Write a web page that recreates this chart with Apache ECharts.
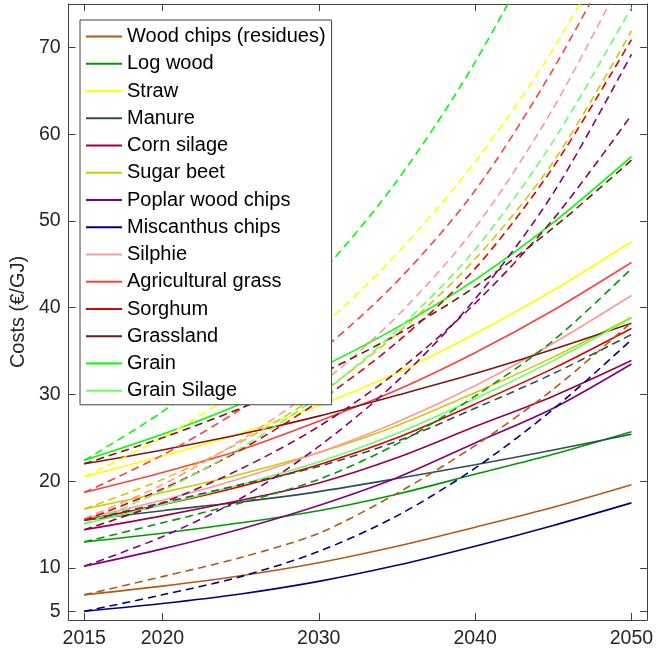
<!DOCTYPE html>
<html>
<head>
<meta charset="utf-8">
<script src="https://cdn.jsdelivr.net/npm/echarts@6/dist/echarts.min.js"></script>
<style>html,body{margin:0;padding:0;background:#fff;}#c{width:656px;height:657px;}</style>
</head>
<body>
<div id="c"></div>
<script>
const years = [2015, 2020, 2025, 2030, 2035, 2040, 2045, 2050];
const xTicks = [2015, 2020, 2030, 2040, 2050];
const yTicks = [5, 10, 20, 30, 40, 50, 60, 70];
const names = ['Wood chips (residues)','Log wood','Straw','Manure','Corn silage','Sugar beet','Poplar wood chips','Miscanthus chips','Silphie','Agricultural grass','Sorghum','Grassland','Grain','Grain Silage'];
const colors = ['#b35a14','#009a00','#ffff00','#2f4f4f','#99004a','#cccc00','#800080','#000080','#ff9999','#ff4040','#dd0000','#7f1515','#00ff00','#66ff66'];

// solid lines
const woodChipsSolid   = [6.9, 7.9, 9.1, 10.6, 12.5, 14.7, 17.0, 19.6];
const logWoodSolid     = [13.0, 14.0, 15.2, 16.6, 18.5, 20.8, 23.1, 25.7];
const strawSolid       = [20.5, 22.9, 25.5, 28.7, 32.5, 37.0, 42.0, 47.6];
const manureSolid      = [15.5, 16.6, 17.6, 18.8, 20.3, 21.9, 23.6, 25.4];
const cornSilageSolid  = [14.4, 16.0, 17.8, 19.8, 22.7, 26.3, 29.8, 33.9];
const sugarBeetSolid   = [16.8, 18.7, 20.8, 23.3, 26.4, 30.2, 34.3, 38.9];
const poplarSolid      = [10.2, 12.2, 14.5, 17.2, 20.4, 24.4, 28.4, 33.5];
const miscanthusSolid  = [5.0, 5.9, 7.0, 8.45, 10.3, 12.5, 14.9, 17.5];
const silphieSolid     = [15.7, 17.8, 20.3, 23.3, 26.8, 31.0, 35.9, 41.4];
const agGrassSolid     = [18.7, 21.0, 23.6, 26.9, 30.5, 34.8, 39.7, 45.2];
const sorghumSolid     = [15.5, 17.3, 19.4, 21.9, 25.0, 28.9, 33.0, 37.6];
const grasslandSolid   = [22.0, 23.6, 25.4, 27.5, 29.9, 32.4, 35.2, 38.2];
const grainSolid       = [22.4, 25.4, 28.9, 33.0, 37.7, 43.2, 49.8, 57.4];
const grainSilageSolid = [15.1, 17.3, 19.6, 22.2, 25.5, 29.5, 33.9, 38.8];

// dashed lines
const woodChipsDashed   = [6.9, 9.0, 11.2, 14.0, 18.6, 24.1, 30.6, 38.3];
const logWoodDashed     = [13.0, 15.2, 17.5, 20.2, 24.3, 29.8, 36.2, 44.5];
const strawDashed       = [20.5, 25.0, 30.6, 37.5, 46.2, 56.8, 69.8, 85.8];
const manureDashed      = [15.5, 17.5, 19.6, 21.7, 24.6, 28.4, 32.4, 36.9];
const cornSilageDashed  = [14.4, 17.5, 21.4, 26.3, 32.6, 40.5, 50.2, 62.2];
const sugarBeetDashed   = [16.8, 20.2, 24.5, 30.0, 37.0, 45.6, 56.8, 71.9];
const poplarDashed      = [10.2, 13.6, 18.0, 24.0, 31.5, 41.0, 53.2, 69.2];
const miscanthusDashed  = [5.0, 6.9, 9.0, 11.9, 16.0, 21.5, 28.3, 36.3];
const silphieDashed     = [15.7, 19.6, 24.7, 31.0, 39.0, 49.2, 63.0, 80.0];
const agGrassDashed     = [18.7, 23.0, 28.3, 34.8, 43.0, 53.5, 67.5, 84.0];
const sorghumDashed     = [15.5, 19.1, 23.6, 29.2, 36.0, 44.5, 56.2, 70.9];
const grasslandDashed   = [22.0, 25.0, 28.4, 32.3, 36.9, 42.4, 49.2, 57.0];
const grainDashed       = [22.4, 28.0, 35.0, 43.7, 54.6, 68.3, 85.3, 106.6];
const grainSilageDashed = [15.1, 18.9, 23.8, 29.8, 37.4, 46.7, 59.2, 74.6];

const solids = [woodChipsSolid, logWoodSolid, strawSolid, manureSolid, cornSilageSolid, sugarBeetSolid, poplarSolid, miscanthusSolid, silphieSolid, agGrassSolid, sorghumSolid, grasslandSolid, grainSolid, grainSilageSolid];
const dasheds = [woodChipsDashed, logWoodDashed, strawDashed, manureDashed, cornSilageDashed, sugarBeetDashed, poplarDashed, miscanthusDashed, silphieDashed, agGrassDashed, sorghumDashed, grasslandDashed, grainDashed, grainSilageDashed];

const FONT = 'Liberation Sans, Arial, sans-serif';
const AX = '#404040';
const TXT = '#262626';

function mk(name, vals, color, dashed) {
  return {
    name: name, type: 'line', xAxisIndex: 0, yAxisIndex: 0,
    data: vals.map((v, i) => [years[i], v]),
    showSymbol: false, smooth: 0.3, clip: true,
    lineStyle: { color: color, width: 1.6, type: dashed ? [8, 5] : 'solid' },
    itemStyle: { color: color },
    emphasis: { disabled: true }, silent: true
  };
}
const series = [];
names.forEach((n, i) => series.push(mk(n, solids[i], colors[i], false)));
names.forEach((n, i) => series.push(mk(n, dasheds[i], colors[i], true)));

const chart = echarts.init(document.getElementById('c'), null, { renderer: 'canvas' });
chart.setOption({
  animation: false,
  backgroundColor: '#fff',
  grid: { left: 63, right: 6, top: 4, bottom: 37, containLabel: false },
  legend: {
    data: names, orient: 'vertical', left: 80, top: 20,
    padding: [6.5, 6, 4, 6], itemGap: 7.25, itemWidth: 36, itemHeight: 2,
    icon: 'rect', selectedMode: false,
    backgroundColor: '#fff', borderColor: '#404040', borderWidth: 1, borderRadius: 0,
    textStyle: { fontFamily: FONT, fontSize: 20, color: '#000', lineHeight: 20, padding: [0, 0, 0, 0] }
  },
  xAxis: [
    { type: 'value', min: 2014, max: 2051, position: 'bottom',
      axisLine: { show: true, onZero: false, lineStyle: { color: AX, width: 1 } },
      axisTick: { show: true, inside: true, length: 7, customValues: xTicks, lineStyle: { color: AX } },
      axisLabel: { show: true, customValues: xTicks, formatter: v => String(v), fontFamily: FONT, fontSize: 19.5, color: TXT, margin: 9 },
      splitLine: { show: false } },
    { type: 'value', min: 2014, max: 2051, position: 'top',
      axisLine: { show: true, onZero: false, lineStyle: { color: AX, width: 1 } },
      axisTick: { show: true, inside: true, length: 7, customValues: xTicks, lineStyle: { color: AX } },
      axisLabel: { show: false }, splitLine: { show: false } }
  ],
  yAxis: [
    { type: 'value', min: 4, max: 75, position: 'left',
      name: 'Costs (€/GJ)', nameLocation: 'middle', nameGap: 38,
      nameTextStyle: { fontFamily: FONT, fontSize: 20, color: TXT },
      axisLine: { show: true, onZero: false, lineStyle: { color: AX, width: 1 } },
      axisTick: { show: true, inside: true, length: 7, customValues: yTicks, lineStyle: { color: AX } },
      axisLabel: { show: true, customValues: yTicks, fontFamily: FONT, fontSize: 19.5, color: TXT, margin: 8 },
      splitLine: { show: false } },
    { type: 'value', min: 4, max: 75, position: 'right',
      axisLine: { show: true, onZero: false, lineStyle: { color: AX, width: 1 } },
      axisTick: { show: true, inside: true, length: 7, customValues: yTicks, lineStyle: { color: AX } },
      axisLabel: { show: false }, splitLine: { show: false } }
  ],
  series: series
});
</script>
</body>
</html>
